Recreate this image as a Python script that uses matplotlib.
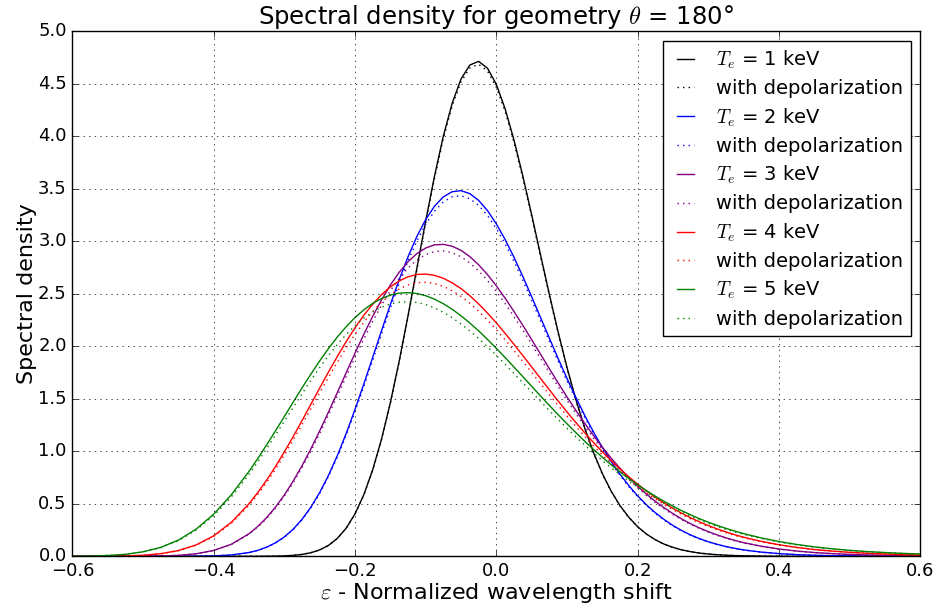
# coding: utf-8
import matplotlib
matplotlib.use('Agg')
import matplotlib.pyplot as plt

# normalized wavelength shift (finer step in the middle)
epsArr = [-0.600, -0.575, -0.550, -0.525, -0.500, -0.475, -0.450, -0.425, -0.400, -0.375, -0.350,
          -0.3375, -0.325, -0.3125, -0.300, -0.2875, -0.275, -0.2625, -0.250, -0.2375, -0.225, -0.2125, -0.200,
          -0.1875, -0.175, -0.1625, -0.150, -0.1375, -0.125, -0.1125, -0.100, -0.0875, -0.075, -0.0625, -0.050,
          -0.0375, -0.025, -0.0125, 0.000, 0.0125, 0.025, 0.0375, 0.050, 0.0625, 0.075, 0.0875, 0.100,
          0.1125, 0.125, 0.1375, 0.150, 0.1625, 0.175, 0.1875, 0.200, 0.2125, 0.225, 0.2375, 0.250,
          0.2625, 0.275, 0.2875, 0.300, 0.3125, 0.325, 0.3375,
          0.350, 0.375, 0.400, 0.425, 0.450, 0.475, 0.500, 0.525, 0.550, 0.575, 0.600]

# Te = 1 keV
te1Arr = [0.0, 0.0, 0.0, 0.0, 0.0, 0.0, 0.0, 0.0, 0.0, 0.0, 0.0,
          0.000, 0.001, 0.002, 0.004, 0.009, 0.018, 0.034, 0.061, 0.104, 0.171, 0.268, 0.404,
          0.587, 0.823, 1.115, 1.462, 1.857, 2.289, 2.741, 3.192, 3.619, 4.000, 4.313, 4.543,
          4.677, 4.712, 4.647, 4.493, 4.259, 3.963, 3.621, 3.252, 2.872, 2.496, 2.135, 1.799,
          1.494, 1.224, 0.989, 0.789, 0.621, 0.483, 0.372, 0.282, 0.212, 0.158, 0.116, 0.085,
          0.061, 0.044, 0.031, 0.022, 0.015, 0.011, 0.007,
          0.005, 0.002, 0.001, 0.0, 0.0, 0.0, 0.0, 0.0, 0.0, 0.0, 0.0]
te1DepolArr = [0.0, 0.0, 0.0, 0.0, 0.0, 0.0, 0.0, 0.0, 0.0, 0.0, 0.0,
               0.000, 0.001, 0.002, 0.004, 0.009, 0.018, 0.034, 0.061, 0.104, 0.170, 0.266, 0.402,
               0.583, 0.818, 1.109, 1.453, 1.846, 2.275, 2.724, 3.173, 3.597, 3.976, 4.287, 4.516,
               4.649, 4.684, 4.620, 4.466, 4.234, 3.939, 3.599, 3.232, 2.855, 2.481, 2.122, 1.788,
               1.485, 1.217, 0.983, 0.784, 0.617, 0.480, 0.369, 0.280, 0.211, 0.157, 0.115, 0.084,
               0.061, 0.044, 0.031, 0.022, 0.015, 0.010, 0.007,
               0.005, 0.002, 0.001, 0.0, 0.0, 0.0, 0.0, 0.0, 0.0, 0.0, 0.0]

# Te = 2 keV
te2Arr = [0.0, 0.0, 0.0, 0.0, 0.0, 0.0, 0.0, 0.001, 0.004, 0.013, 0.036,
          0.057, 0.087, 0.129, 0.185, 0.258, 0.352, 0.467, 0.607, 0.771, 0.959, 1.169, 1.398,
          1.641, 1.893, 2.147, 2.396, 2.633, 2.851, 3.044, 3.206, 3.333, 3.422, 3.471, 3.481,
          3.453, 3.388, 3.291, 3.165, 3.015, 2.847, 2.664, 2.472, 2.275, 2.078, 1.883, 1.694,
          1.514, 1.343, 1.184, 1.037, 0.903, 0.782, 0.673, 0.576, 0.490, 0.415, 0.350, 0.293,
          0.245, 0.203, 0.168, 0.139, 0.114, 0.093, 0.076,
          0.061, 0.040, 0.026, 0.016, 0.010, 0.006, 0.004, 0.002, 0.001, 0.001, 0.0]
te2DepolArr = [0.0, 0.0, 0.0, 0.0, 0.0, 0.0, 0.0, 0.001, 0.004, 0.013, 0.036,
               0.056, 0.086, 0.127, 0.182, 0.254, 0.347, 0.461, 0.598, 0.760, 0.946, 1.153, 1.378,
               1.618, 1.866, 2.117, 2.362, 2.596, 2.811, 3.001, 3.161, 3.286, 3.374, 3.423, 3.432,
               3.404, 3.341, 3.245, 3.121, 2.973, 2.807, 2.627, 2.437, 2.243, 2.049, 1.857, 1.670,
               1.492, 1.324, 1.167, 1.022, 0.890, 0.771, 0.663, 0.568, 0.483, 0.409, 0.345, 0.289,
               0.241, 0.200, 0.166, 0.137, 0.112, 0.092, 0.075,
               0.060, 0.039, 0.026, 0.016, 0.010, 0.006, 0.004, 0.002, 0.001, 0.001, 0.0]

# Te = 3 keV
te3Arr = [0.0, 0.0, 0.0, 0.0, 0.001, 0.003, 0.009, 0.024, 0.056, 0.115, 0.215,
          0.285, 0.369, 0.469, 0.584, 0.716, 0.862, 1.022, 1.194, 1.374, 1.560, 1.748, 1.934,
          2.114, 2.284, 2.441, 2.582, 2.704, 2.804, 2.882, 2.935, 2.965, 2.970, 2.952, 2.913,
          2.853, 2.775, 2.682, 2.575, 2.457, 2.331, 2.199, 2.063, 1.925, 1.787, 1.651, 1.518,
          1.390, 1.267, 1.150, 1.039, 0.935, 0.839, 0.749, 0.667, 0.592, 0.523, 0.462, 0.406,
          0.355, 0.310, 0.270, 0.235, 0.204, 0.176, 0.152,
          0.130, 0.096, 0.070, 0.050, 0.036, 0.026, 0.018, 0.013, 0.009, 0.006, 0.004]
te3DepolArr = [0.0, 0.0, 0.0, 0.0, 0.001, 0.003, 0.009, 0.023, 0.055, 0.113, 0.210,
               0.279, 0.361, 0.459, 0.572, 0.701, 0.844, 1.001, 1.169, 1.345, 1.527, 1.711, 1.893,
               2.069, 2.236, 2.390, 2.528, 2.647, 2.745, 2.821, 2.873, 2.902, 2.908, 2.890, 2.852,
               2.793, 2.717, 2.626, 2.521, 2.406, 2.282, 2.153, 2.020, 1.885, 1.749, 1.617, 1.486,
               1.361, 1.240, 1.125, 1.017, 0.916, 0.821, 0.734, 0.653, 0.580, 0.512, 0.452, 0.397,
               0.348, 0.303, 0.265, 0.230, 0.199, 0.172, 0.148,
               0.127, 0.094, 0.069, 0.049, 0.035, 0.025, 0.018, 0.013, 0.009, 0.006, 0.004]

# Te = 4 keV
te4Arr = [0.0, 0.0, 0.001, 0.004, 0.010, 0.025, 0.055, 0.108, 0.195, 0.324, 0.501,
          0.608, 0.726, 0.855, 0.994, 1.140, 1.292, 1.447, 1.602, 1.755, 1.903, 2.044, 2.175,
          2.295, 2.400, 2.491, 2.565, 2.622, 2.661, 2.683, 2.687, 2.675, 2.647, 2.604, 2.549,
          2.481, 2.403, 2.316, 2.222, 2.122, 2.018, 1.911, 1.803, 1.694, 1.586, 1.479, 1.375,
          1.274, 1.177, 1.084, 0.995, 0.911, 0.831, 0.757, 0.687, 0.623, 0.563, 0.507, 0.456,
          0.410, 0.367, 0.328, 0.293, 0.261, 0.232, 0.205,
          0.182, 0.142, 0.110, 0.085, 0.065, 0.050, 0.038, 0.029, 0.022, 0.016, 0.012]
te4DepolArr = [0.0, 0.0, 0.001, 0.004, 0.010, 0.024, 0.053, 0.105, 0.189, 0.314, 0.486,
               0.590, 0.705, 0.831, 0.965, 1.107, 1.255, 1.405, 1.556, 1.704, 1.848, 1.985, 2.112,
               2.228, 2.330, 2.418, 2.491, 2.545, 2.584, 2.605, 2.609, 2.597, 2.570, 2.529, 2.475,
               2.409, 2.333, 2.249, 2.158, 2.061, 1.959, 1.856, 1.751, 1.645, 1.540, 1.436, 1.335,
               1.237, 1.143, 1.052, 0.966, 0.884, 0.807, 0.735, 0.667, 0.604, 0.547, 0.492, 0.443,
               0.398, 0.356, 0.318, 0.285, 0.253, 0.225, 0.199,
               0.177, 0.138, 0.107, 0.083, 0.063, 0.049, 0.037, 0.028, 0.021, 0.016, 0.012]

# Te = 5 keV
te5Arr = [0.001, 0.003, 0.008, 0.019, 0.043, 0.085, 0.154, 0.258, 0.401, 0.586, 0.809,
          0.932, 1.062, 1.195, 1.331, 1.468, 1.603, 1.734, 1.860, 1.979, 2.088, 2.186, 2.273,
          2.347, 2.408, 2.454, 2.487, 2.506, 2.510, 2.502, 2.481, 2.448, 2.405, 2.352, 2.290,
          2.221, 2.146, 2.065, 1.980, 1.892, 1.802, 1.711, 1.619, 1.527, 1.437, 1.348, 1.262,
          1.178, 1.096, 1.018, 0.944, 0.872, 0.805, 0.741, 0.681, 0.625, 0.572, 0.523, 0.477,
          0.434, 0.395, 0.358, 0.325, 0.294, 0.266, 0.240,
          0.216, 0.175, 0.141, 0.113, 0.090, 0.072, 0.057, 0.045, 0.036, 0.028, 0.022]
te5DepolArr = [0.001, 0.003, 0.008, 0.018, 0.042, 0.082, 0.149, 0.249, 0.387, 0.566, 0.781,
               0.900, 1.026, 1.155, 1.286, 1.418, 1.548, 1.675, 1.797, 1.911, 2.017, 2.112, 2.196,
               2.267, 2.326, 2.371, 2.402, 2.420, 2.425, 2.417, 2.397, 2.365, 2.323, 2.272, 2.212,
               2.146, 2.073, 1.995, 1.913, 1.828, 1.741, 1.652, 1.564, 1.476, 1.388, 1.302, 1.219,
               1.138, 1.059, 0.984, 0.912, 0.843, 0.778, 0.716, 0.658, 0.604, 0.553, 0.505, 0.461,
               0.419, 0.382, 0.346, 0.314, 0.284, 0.257, 0.232,
               0.209, 0.169, 0.136, 0.109, 0.087, 0.070, 0.055, 0.043, 0.035, 0.027, 0.021]

teLabels = [1, 2, 3, 4, 5]
colors = ['k', 'b', 'purple', 'r', 'g']


def displayAllData():
    plt.style.use('classic')

    fig = plt.figure(figsize=(9.4, 6.1), dpi=100, facecolor='white')
    ax = fig.add_subplot(111)
    fig.subplots_adjust(left=0.077, right=0.979, top=0.949, bottom=0.088)

    solidArrs = [te1Arr, te2Arr, te3Arr, te4Arr, te5Arr]
    depolArrs = [te1DepolArr, te2DepolArr, te3DepolArr, te4DepolArr, te5DepolArr]

    for i in range(0, len(teLabels)):
        ax.plot(epsArr, solidArrs[i], '-', color=colors[i],
                label=r'$T_e$ = %d keV' % teLabels[i])
        ax.plot(epsArr, depolArrs[i], ':', color=colors[i],
                label='with depolarization')

    ax.set_xlim(-0.6, 0.6)
    ax.set_ylim(0.0, 5.0)
    ax.set_xticks([-0.6, -0.4, -0.2, 0.0, 0.2, 0.4, 0.6])
    ax.set_yticks([0.0, 0.5, 1.0, 1.5, 2.0, 2.5, 3.0, 3.5, 4.0, 4.5, 5.0])
    ax.tick_params(labelsize=13)
    ax.grid(True)

    ax.set_xlabel(r'$\varepsilon$ - Normalized wavelength shift', fontsize=16, labelpad=1)
    ax.set_ylabel('Spectral density', fontsize=16, labelpad=1)
    ax.set_title(r'Spectral density for geometry $\theta$ = 180°', fontsize=17.5)

    ax.legend(loc='upper right', fontsize=14, handlelength=1.5,
              labelspacing=0.42)

    fig.savefig('out.png', dpi=100, facecolor='white')


def main():
    displayAllData()


if __name__ == '__main__':
    main()
